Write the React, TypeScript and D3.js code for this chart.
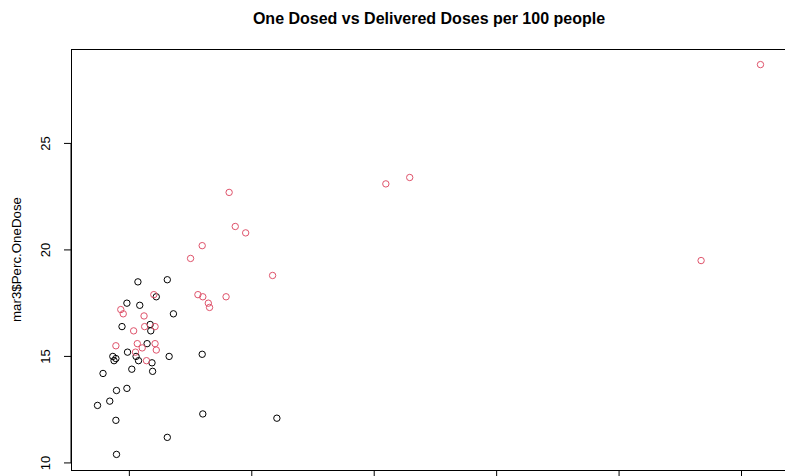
import React from "react";
import { scaleLinear, extent } from "d3";

// delivered doses per 100 people (x) and percent one-dosed (y), black group
const blackDelivered = [
  30.7, 33.1, 32.2, 29.8, 30.85, 33.6, 29.4, 31.7, 31.75, 31.45, 29.85, 30.55,
  30.75, 28.65, 28.9, 28.75, 31.85, 33.25, 35.95, 30.2, 31.9, 27.85, 28.95,
  29.8, 28.4, 27.4, 28.9, 36.0, 42.05, 33.1, 28.95,
];
const blackOneDose = [
  18.5, 18.6, 17.8, 17.5, 17.4, 17.0, 16.4, 16.5, 16.2, 15.6, 15.2, 15.0,
  14.8, 15.0, 14.9, 14.8, 14.7, 15.0, 15.1, 14.4, 14.3, 14.2, 13.4, 13.5,
  12.9, 12.7, 12.0, 12.3, 12.1, 11.2, 10.4,
];

// red group
const redDelivered = [
  38.15, 38.65, 39.5, 35.95, 35.0, 41.7, 35.6, 36.0, 36.45, 36.55, 37.9,
  50.95, 52.9, 81.55, 76.7, 32.0, 29.3, 29.5, 31.2, 31.25, 32.1, 30.35, 28.9,
  30.65, 32.1, 31.05, 32.2, 30.5, 31.4,
];
const redOneDose = [
  22.7, 21.1, 20.8, 20.2, 19.6, 18.8, 17.9, 17.8, 17.5, 17.3, 17.8, 23.1,
  23.4, 28.7, 19.5, 17.9, 17.2, 17.0, 16.9, 16.4, 16.4, 16.2, 15.5, 15.6,
  15.6, 15.4, 15.3, 15.2, 14.8,
];

const xTicks = [30, 40, 50, 60, 70, 80];
const yTicks = [10, 15, 20, 25];

const title = "One Dosed vs Delivered Doses per 100 people";
const yLabel = "mar3$Perc.OneDose";

const width = 785;
const height = 476;
const box = { left: 71, right: 787, top: 49, bottom: 470 };
const font = "'Liberation Sans', Arial, Helvetica, sans-serif";

// R-style 4% padding around the data range
const pad = ([lo, hi]: [number, number]) => {
  const d = (hi - lo) * 0.04;
  return [lo - d, hi + d];
};

const App = () => {
  const allX = [...blackDelivered, ...redDelivered];
  const allY = [...blackOneDose, ...redOneDose];

  const xScale = scaleLinear()
    .domain(pad(extent(allX) as [number, number]))
    .range([box.left, box.right]);
  const yScale = scaleLinear()
    .domain(pad(extent(allY) as [number, number]))
    .range([box.bottom, box.top]);

  const points = (xs: number[], ys: number[], color: string, key: string) =>
    xs.map((x, i) => (
      <circle
        key={`${key}-${i}`}
        cx={xScale(x)}
        cy={yScale(ys[i])}
        r={3.2}
        fill="none"
        stroke={color}
        strokeWidth={1}
      />
    ));

  return (
    <svg
      width={width}
      height={height}
      style={{ position: "absolute", left: 0, top: 0, background: "#fff" }}
      fontFamily={font}
    >
      <rect x={0} y={0} width={width} height={height} fill="#fff" />
      <text
        x={(box.left + box.right) / 2}
        y={23.5}
        textAnchor="middle"
        fontSize={16}
        fontWeight="bold"
      >
        {title}
      </text>

      {/* y axis */}
      <line
        x1={box.left}
        x2={box.left}
        y1={yScale(yTicks[0])}
        y2={yScale(yTicks[yTicks.length - 1])}
        stroke="#000"
      />
      {yTicks.map((t) => (
        <g key={t}>
          <line
            x1={box.left - 7}
            x2={box.left}
            y1={yScale(t)}
            y2={yScale(t)}
            stroke="#000"
          />
          <text
            transform={`translate(50, ${yScale(t)}) rotate(-90)`}
            textAnchor="middle"
            fontSize={13}
          >
            {t}
          </text>
        </g>
      ))}
      <text
        transform={`translate(21, ${(box.top + box.bottom) / 2}) rotate(-90)`}
        textAnchor="middle"
        fontSize={13.3}
      >
        {yLabel}
      </text>

      {/* x axis */}
      {xTicks.map((t) => (
        <line
          key={t}
          x1={xScale(t)}
          x2={xScale(t)}
          y1={box.bottom}
          y2={box.bottom + 7}
          stroke="#000"
        />
      ))}

      <rect
        x={box.left + 0.5}
        y={box.top + 0.5}
        width={box.right - box.left}
        height={box.bottom - box.top}
        fill="none"
        stroke="#000"
      />

      {points(blackDelivered, blackOneDose, "#000", "b")}
      {points(redDelivered, redOneDose, "#DF536B", "r")}
    </svg>
  );
};

export default App;
